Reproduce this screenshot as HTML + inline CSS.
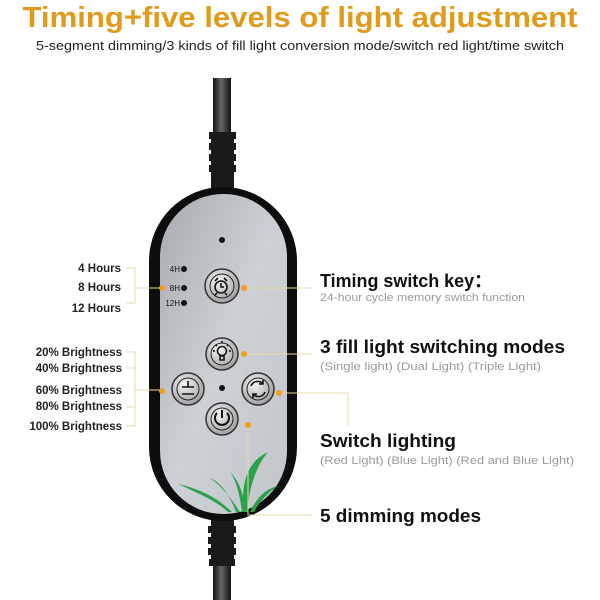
<!DOCTYPE html>
<html><head><meta charset="utf-8"><style>html,body{margin:0;padding:0;background:#fff}svg{display:block}</style></head>
<body>
<svg width="600" height="600" viewBox="0 0 600 600" xmlns="http://www.w3.org/2000/svg" font-family="Liberation Sans, sans-serif">
<defs>
<linearGradient id="cab" x1="0" x2="1"><stop offset="0" stop-color="#111"/><stop offset="0.45" stop-color="#666"/><stop offset="1" stop-color="#111"/></linearGradient>
<linearGradient id="sil" x1="0" x2="1" y1="0" y2="1"><stop offset="0" stop-color="#a8acb1"/><stop offset="0.5" stop-color="#cdd0d4"/><stop offset="1" stop-color="#c2c5ca"/></linearGradient>
<radialGradient id="btn" cx="0.4" cy="0.35" r="0.7"><stop offset="0" stop-color="#f4f4f4"/><stop offset="1" stop-color="#9c9c9c"/></radialGradient>
</defs>
<text x="300" y="27" text-anchor="middle" font-size="29" font-weight="bold" fill="#e09a1c" textLength="555" lengthAdjust="spacingAndGlyphs">Timing+five levels of light adjustment</text>
<text x="300" y="50" text-anchor="middle" font-size="13" fill="#222" textLength="528" lengthAdjust="spacingAndGlyphs">5-segment dimming/3 kinds of fill light conversion mode/switch red light/time switch</text>
<!-- cables -->
<rect x="213" y="78" width="18" height="60" fill="url(#cab)"/>
<g fill="#1a1a1a">
<rect x="209" y="132" width="27" height="7"/><rect x="211" y="139" width="23" height="4"/>
<rect x="209" y="143" width="27" height="7"/><rect x="211" y="150" width="23" height="4"/>
<rect x="209" y="154" width="27" height="7"/><rect x="211" y="161" width="23" height="4"/>
<rect x="209" y="165" width="27" height="7"/><rect x="211" y="172" width="23" height="16"/>
</g>
<rect x="213" y="550" width="18" height="50" fill="url(#cab)"/>
<g fill="#1a1a1a">
<rect x="211" y="515" width="23" height="14"/>
<rect x="208" y="526" width="28" height="7"/><rect x="211" y="533" width="23" height="4"/>
<rect x="208" y="537" width="28" height="7"/><rect x="211" y="544" width="23" height="4"/>
<rect x="208" y="548" width="28" height="7"/><rect x="211" y="555" width="23" height="4"/>
<rect x="209" y="559" width="26" height="7"/>
</g>
<!-- body -->
<rect x="149" y="187" width="148" height="334" rx="74" fill="#0d0d0d"/>
<rect x="160" y="194" width="127" height="320" rx="63" fill="url(#sil)"/>
<circle cx="222" cy="240" r="3" fill="#111"/>
<g font-size="8" fill="#111" text-anchor="end"><text x="180" y="272">4H</text><text x="180" y="291">8H</text><text x="180" y="306">12H</text></g>
<g fill="#111"><circle cx="184" cy="269" r="3"/><circle cx="184" cy="288" r="3"/><circle cx="184" cy="303" r="3"/><circle cx="222" cy="388" r="3"/></g>
<g stroke="#333" stroke-width="1.5" fill="url(#btn)">
<circle cx="222" cy="286" r="17"/><circle cx="222" cy="354" r="16"/><circle cx="188" cy="389" r="16"/><circle cx="258" cy="389" r="16"/><circle cx="222" cy="419" r="16"/>
</g>
<g stroke="#222" stroke-width="1" fill="none">
<circle cx="222" cy="286" r="12"/><circle cx="222" cy="354" r="11"/><circle cx="188" cy="389" r="11"/><circle cx="258" cy="389" r="11"/><circle cx="222" cy="419" r="11"/>
</g>
<g stroke="#111" stroke-width="1.6" fill="none">
<circle cx="221" cy="287" r="6"/><path d="M221 283v4h3M215 281l3-3M227 281l-3-3M217 293l-2 2M225 293l2 2"/>
<circle cx="222" cy="351" r="4.5"/><path d="M220 356h4v4h-4zM222 343v-2M215 351h-2M229 351h2M217 346l-1-1M227 346l1-1"/>
<path d="M182 387h12M188 381v6M182 394h12"/>
<path d="M251 386a7 7 0 0 1 12-2M265 392a7 7 0 0 1-12 2M263 380v4h-4M253 398v-4h4"/>
<path d="M217 413a7 7 0 1 0 10 0M222 410v8" stroke-width="2"/>
</g>
<!-- plant -->
<g fill="#2aa24a">
<path d="M244 512 C240 480 250 460 268 452 C256 466 248 490 248 512Z"/>
<path d="M236 512 C230 495 220 482 210 478 C224 488 232 500 240 512Z"/>
<path d="M232 512 C215 495 195 488 178 484 C200 494 218 502 228 512Z"/>
<path d="M250 512 C258 495 268 488 278 486 C266 494 258 504 254 512Z"/>
<path d="M242 512 C240 495 236 480 230 472 C240 482 244 496 246 512Z"/>
</g>
<!-- leader lines -->
<g stroke="#e8d9a8" stroke-width="1" fill="none">
<path d="M126 268h9v35h-9M135 288h27"/>
<path d="M126 352h9v74h-9M126 368h9M126 407h9M135 390h27"/>
<path d="M244 288h68M244 354h68M279 393h69v33M248 425v90h64"/>
</g>
<g fill="#f0a020"><circle cx="162" cy="288" r="3"/><circle cx="162" cy="391" r="3"/><circle cx="244" cy="288" r="3"/><circle cx="244" cy="354" r="3"/><circle cx="279" cy="393" r="3"/><circle cx="248" cy="425" r="3"/></g>
<!-- left labels -->
<g font-size="11.5" font-weight="bold" fill="#222" text-anchor="end">
<text x="121" y="272">4 Hours</text><text x="121" y="291">8 Hours</text><text x="121" y="312">12 Hours</text>
<text x="122" y="356">20% Brightness</text><text x="122" y="372">40% Brightness</text><text x="122" y="394">60% Brightness</text><text x="122" y="410">80% Brightness</text><text x="122" y="430">100% Brightness</text>
</g>
<!-- right labels -->
<g font-weight="bold" fill="#111" font-size="18">
<text x="320" y="287" textLength="172" lengthAdjust="spacingAndGlyphs">Timing switch key：</text>
<text x="320" y="353" textLength="245" lengthAdjust="spacingAndGlyphs">3 fill light switching modes</text>
<text x="320" y="447" textLength="136" lengthAdjust="spacingAndGlyphs">Switch lighting</text>
<text x="320" y="522" textLength="161" lengthAdjust="spacingAndGlyphs">5 dimming modes</text>
</g>
<g fill="#9a9a9a" font-size="11">
<text x="320" y="301" textLength="205" lengthAdjust="spacingAndGlyphs">24-hour cycle memory switch function</text>
<text x="320" y="370" textLength="221" lengthAdjust="spacingAndGlyphs">(Single light) (Dual Light) (Triple Light)</text>
<text x="320" y="464" textLength="254" lengthAdjust="spacingAndGlyphs">(Red Light) (Blue Light) (Red and Blue Light)</text>
</g>
</svg>
</body></html>
